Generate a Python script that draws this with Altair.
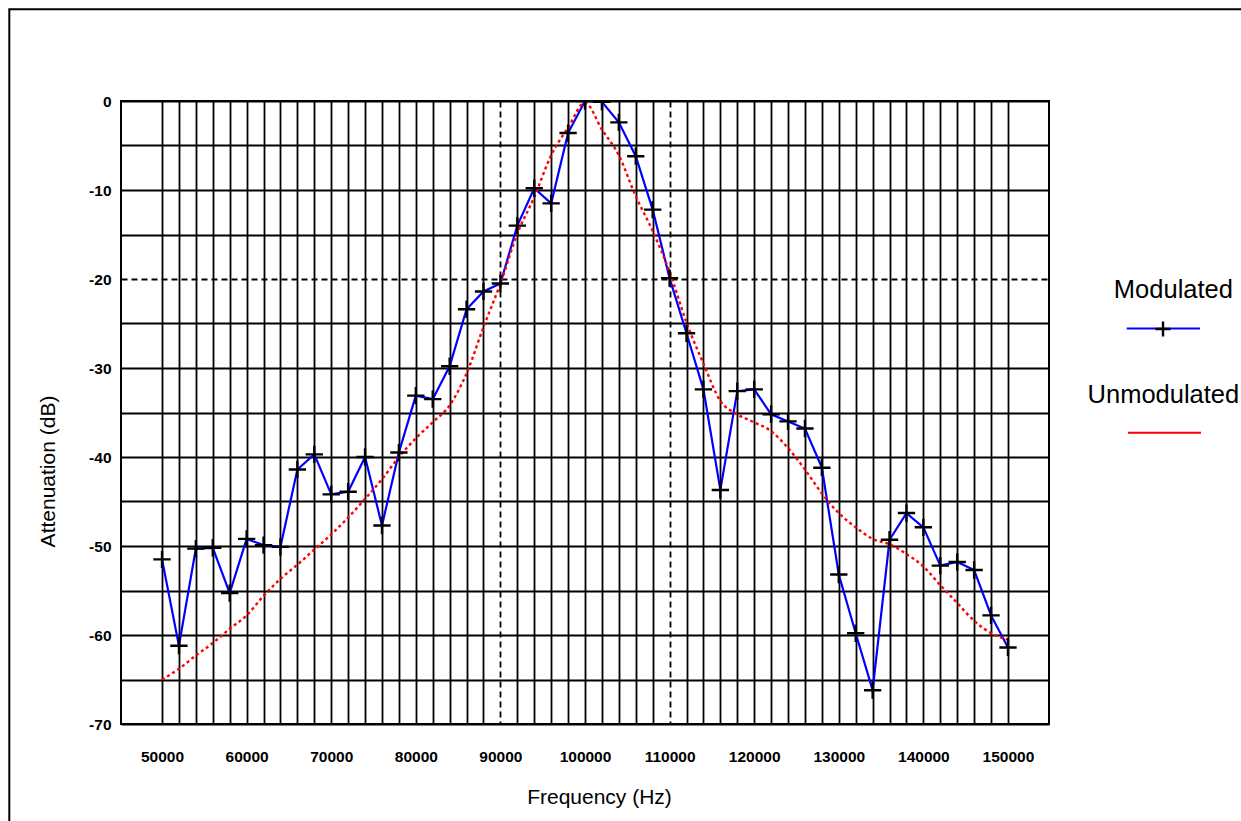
import altair as alt
import pandas as pd

# Sweep frequencies (Hz), one reading every 2 kHz
freq_hz = list(range(50000, 150001, 2000))

# Measured attenuation with modulation (dB)
modulated_db = [
    -51.5, -61.2, -50.3, -50.2, -55.3, -49.2, -49.9, -50.1, -41.4, -39.7,
    -44.2, -43.9, -40.0, -47.7, -39.5, -33.1, -33.5, -29.8, -23.4, -21.4,
    -20.5, -14.0, -9.8, -11.5, -3.6, 0.0, -0.1, -2.4, -6.2, -12.2,
    -19.9, -26.1, -32.4, -43.7, -32.6, -32.4, -35.2, -36.0, -36.8, -41.2,
    -53.2, -59.8, -66.2, -49.3, -46.3, -47.9, -52.2, -51.8, -52.7, -57.8, -61.4,
]

# Filter response without modulation (dB)
unmodulated_db = [
    -65.0, -63.8, -62.3, -60.9, -59.3, -57.8, -55.6, -53.7, -52.1, -50.4,
    -48.7, -46.8, -44.7, -42.5, -40.0, -37.9, -36.1, -34.2, -30.6, -25.4,
    -20.5, -14.9, -10.8, -6.1, -3.0, -0.2, -3.2, -6.1, -10.7, -14.6,
    -19.2, -24.9, -29.5, -33.7, -35.2, -36.1, -37.1, -39.0, -41.4, -44.1,
    -46.3, -47.9, -49.2, -49.8, -50.9, -52.3, -54.4, -56.4, -58.4, -59.8, -60.5,
]

x_grid = list(range(50000, 150001, 2000))
y_grid = list(range(-70, 1, 5))
legend_labels = ["Modulated", "Unmodulated"]

df = pd.DataFrame({"freq": freq_hz, "mod": modulated_db, "unmod": unmodulated_db})

FONT = "Liberation Sans"
PLUS = "M-1,0H1M0,-1V1"

x_enc = alt.X(
    "freq:Q",
    scale=alt.Scale(domain=[45150, 154850], nice=False, zero=False),
    axis=alt.Axis(
        values=x_grid,
        tickCount=200,
        labelExpr="datum.value % 10000 == 0 ? toString(datum.value) : ''",
        title="Frequency (Hz)",
        titleX=478,
        titleY=73,
        titleAlign="center",
        titleBaseline="middle",
        grid=True,
        gridColor="black",
        gridWidth=1.8,
        gridDash={"condition": {"test": "datum.value == 90000 || datum.value == 110000",
                                "value": [6, 4]}, "value": []},
        domain=False,
        ticks=False,
        labelPadding=25,
        labelFlush=False,
        labelOverlap=False,
    ),
)
y_scale = alt.Scale(domain=[-70, 0], nice=False, zero=False)
y_axis = alt.Axis(
    values=y_grid,
    tickCount=100,
    labelExpr="datum.value % 10 == 0 ? toString(datum.value) : ''",
    title="Attenuation (dB)",
    titleX=-73,
    titleY=370,
    titleAlign="center",
    titleBaseline="middle",
    grid=True,
    gridColor="black",
    gridWidth=1.8,
    gridDash={"condition": {"test": "datum.value == -20", "value": [6, 4]}, "value": []},
    domain=False,
    ticks=False,
    labelPadding=10,
    labelFlush=False,
    labelOverlap=False,
)

base = alt.Chart(df)

mod_line = base.mark_line(color="#0000ff", strokeWidth=2.2, clip=True).encode(
    x=x_enc, y=alt.Y("mod:Q", scale=y_scale, axis=y_axis)
)
unmod_line = base.mark_line(
    color="#ff0000", strokeWidth=2.4, strokeDash=[3, 3], interpolate="monotone", clip=True
).encode(x="freq:Q", y="unmod:Q")
mod_points = base.mark_point(
    shape=PLUS, size=300, filled=False, stroke="black", strokeWidth=2.4, opacity=1, clip=True
).encode(x="freq:Q", y="mod:Q")

# Outer frame around the figure
frame = alt.Chart(pd.DataFrame({"k": [0]})).mark_rect(
    filled=False, stroke="black", strokeWidth=2
).encode(x=alt.value(-111.7), x2=alt.value(1160), y=alt.value(-91.7), y2=alt.value(760))

# Legend: label above a line sample
lab_mod = alt.Chart(pd.DataFrame({"t": [legend_labels[0]]})).mark_text(
    font=FONT, fontSize=25.5, align="center", baseline="alphabetic", color="black"
).encode(text="t:N", x=alt.value(1052.4), y=alt.value(197))
lab_unmod = alt.Chart(pd.DataFrame({"t": [legend_labels[1]]})).mark_text(
    font=FONT, fontSize=25.5, align="center", baseline="alphabetic", color="black"
).encode(text="t:N", x=alt.value(1042.4), y=alt.value(302.3))
sample_mod = alt.Chart(pd.DataFrame({"k": [0]})).mark_rule(color="#0000ff", strokeWidth=2.2).encode(
    x=alt.value(1005.7), x2=alt.value(1079), y=alt.value(227.5)
)
sample_mod_pt = alt.Chart(pd.DataFrame({"k": [0]})).mark_point(
    shape=PLUS, size=225, filled=False, stroke="black", strokeWidth=2.4, opacity=1
).encode(x=alt.value(1042), y=alt.value(228))
sample_unmod = alt.Chart(pd.DataFrame({"k": [0]})).mark_rule(color="#ff0000", strokeWidth=2).encode(
    x=alt.value(1007), x2=alt.value(1080), y=alt.value(331.7)
)

chart = alt.layer(
    mod_line, unmod_line, mod_points,
    frame, lab_mod, lab_unmod, sample_mod, sample_mod_pt, sample_unmod,
).properties(
    width=928,
    height=623,
    padding={"left": 121, "top": 101, "right": 192, "bottom": 97},
    autosize=alt.AutoSizeParams(type="none"),
    background="white",
).configure_view(
    stroke="black", strokeWidth=2
).configure_axis(
    labelFont=FONT, labelFontSize=15.5, labelFontWeight="bold", labelColor="black",
    titleFont=FONT, titleFontSize=21, titleFontWeight="normal", titleColor="black",
)

chart.save("out.html", embed_options={"renderer": "svg", "actions": False})
